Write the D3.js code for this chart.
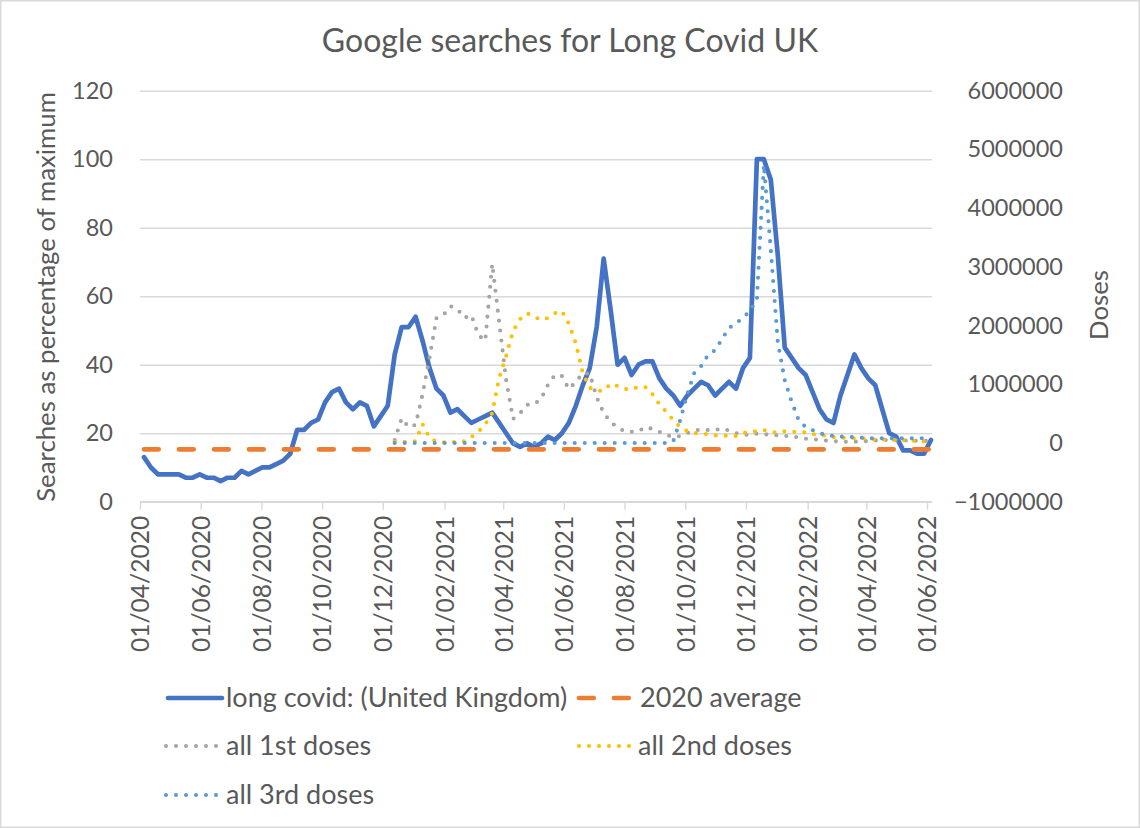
<!DOCTYPE html>
<html><head><meta charset="utf-8">
<script src="https://cdn.jsdelivr.net/npm/d3@7"></script>
<style>
body{margin:0;background:#fff}
text{font-family:Lato,"Open Sans",sans-serif;fill:#595959}
</style>
</head><body>
<svg id="chart" width="1140" height="828"></svg>
<script>
// ---------- data ----------
const searchStart = "2020-04-05";   // weekly, Sundays
const searches = [13,10,8,8,8,8,7,7,8,7,
  7,6,7,7,9,8,9,10,10,11,
  12,14,21,21,23,24,29,32,33,29,
  27,29,28,22,25,28,43,51,51,54,
  47,39,33,31,26,27,25,23,24,25,
  26,23,20,17,16,17,16,17,19,18,
  20,23,28,34,39,51,71,56,40,42,
  37,40,41,41,36,33,31,28,31,33,
  35,34,31,33,35,33,39,42,100,100,
  94,72,45,42,39,37,32,27,24,23,
  31,37,43,39,36,34,27,20,19,15,
  15,14,14,18];
const average2020 = 15.3;
const doseStart = "2020-12-13";     // weekly
const firstDoses = [50000,420000,270000,310000,830000,1450000,2130000,2180000,2330000,2280000,
  2130000,2180000,1840000,1740000,3050000,2060000,1070000,410000,510000,650000,
  660000,750000,990000,1160000,1140000,920000,1040000,1190000,1180000,780000,
  510000,360000,260000,200000,190000,200000,270000,240000,190000,140000,
  100000,120000,170000,210000,230000,220000,220000,250000,210000,170000,
  140000,140000,160000,150000,140000,130000,120000,120000,90000,73000,
  65000,51000,40000,31000,22000,22000,22000,26000,34000,43000,
  51000,51000,51000,46000,39000,39000,37000,34000];
const secondDoses = [20000,20000,20000,30000,320000,90000,20000,10000,10000,20000,
  30000,100000,190000,320000,510000,1110000,1480000,1910000,2110000,2210000,
  2150000,2100000,2130000,2210000,2250000,2030000,1700000,1190000,940000,890000,
  890000,1010000,970000,920000,910000,960000,950000,830000,660000,530000,
  390000,270000,200000,170000,160000,150000,130000,120000,130000,120000,
  170000,190000,200000,220000,200000,170000,200000,190000,190000,180000,
  150000,140000,120000,100000,90000,85000,80000,80000,70000,60000,
  60000,60000,50000,50000,40000,35000,25000,20000];
const thirdDoses = [0,0,0,0,0,0,0,0,0,0,
  0,0,0,0,0,0,0,0,0,0,
  0,0,0,0,0,0,0,0,0,0,
  0,0,0,0,0,0,0,0,0,0,
  30000,390000,830000,1190000,1310000,1500000,1580000,1770000,1960000,2040000,
  2130000,2250000,2440000,4740000,3290000,1720000,1070000,700000,390000,270000,
  220000,170000,130000,120000,110000,100000,100000,90000,80000,80000,
  80000,80000,80000,80000,80000,80000,80000,60000];
const leftTicks = [0,20,40,60,80,100,120];
const rightTicks = [-1000000,0,1000000,2000000,3000000,4000000,5000000,6000000];
const xTickLabels = ["01/04/2020","01/06/2020","01/08/2020","01/10/2020","01/12/2020","01/02/2021",
  "01/04/2021","01/06/2021","01/08/2021","01/10/2021","01/12/2021","01/02/2022","01/04/2022","01/06/2022"];
const title = "Google searches for Long Covid UK";
const leftTitle = "Searches as percentage of maximum";
const rightTitle = "Doses";
const legendNames = ["long covid: (United Kingdom)","2020 average","all 1st doses","all 2nd doses","all 3rd doses"];

// ---------- setup ----------
const parse = d3.timeParse("%Y-%m-%d");
const parseTick = d3.timeParse("%d/%m/%Y");
const weekly = (start, arr) => arr.map((v,i)=>({date:d3.timeDay.offset(parse(start),7*i), v}));
const sData = weekly(searchStart, searches);
const d1 = weekly(doseStart, firstDoses);
const d2 = weekly(doseStart, secondDoses);
const d3s = weekly(doseStart, thirdDoses);

const L=140, R=932, T=90.7, B=501.7;
const svg = d3.select("#chart");
svg.append("rect").attr("x",0.75).attr("y",0.75).attr("width",1138.5).attr("height",826.5)
  .attr("fill","#fff").attr("stroke","#d9d9d9").attr("stroke-width",1.5);

const x = d3.scaleTime().domain([parse("2020-04-01"), parse("2022-06-06")]).range([L,R]);
const yL = d3.scaleLinear().domain([0,120]).range([B,T]);
const yR = d3.scaleLinear().domain([-1000000,6000000]).range([B,T]);

const GRID="#d9d9d9";
// gridlines
const grid = svg.append("g").attr("transform",`translate(${L},0)`)
  .call(d3.axisLeft(yL).tickValues(leftTicks).tickSize(-(R-L)).tickFormat(""));
grid.select(".domain").remove();
grid.selectAll("line").attr("stroke",GRID).attr("stroke-width",1.4);

// x axis
const xa = svg.append("g").attr("transform",`translate(0,${B})`)
  .call(d3.axisBottom(x).tickValues(xTickLabels.map(parseTick)).tickSize(8).tickFormat(d3.timeFormat("%d/%m/%Y")));
xa.select(".domain").attr("stroke",GRID).attr("stroke-width",1.4).attr("d",`M${L},0H${R}`);
xa.selectAll(".tick line").attr("stroke",GRID).attr("stroke-width",1.4);
xa.selectAll(".tick text").attr("transform","rotate(-90)").attr("text-anchor","end")
  .attr("x",-14).attr("y",0).attr("dy","0.36em").style("font-size","24.6px").attr("fill","#595959");

// left axis labels
const la = svg.append("g").attr("transform",`translate(${L},0)`)
  .call(d3.axisLeft(yL).tickValues(leftTicks).tickSize(0).tickPadding(27));
la.select(".domain").remove();
la.selectAll("text").style("font-size","23.5px").attr("fill","#595959");

// right axis labels
const ra = svg.append("g").attr("transform",`translate(1063,0)`)
  .call(d3.axisLeft(yR).tickValues(rightTicks).tickSize(0).tickPadding(0).tickFormat(d3.format("d")));
ra.select(".domain").remove();
ra.selectAll("text").style("font-size","23.5px").attr("fill","#595959");

// titles
svg.append("text").attr("x",570).attr("y",52).attr("text-anchor","middle")
  .style("font-size","32px").text(title);
svg.append("text").attr("transform","translate(46,297) rotate(-90)").attr("text-anchor","middle")
  .attr("dy","0.35em").style("font-size","25.8px").text(leftTitle);
svg.append("text").attr("transform","translate(1099,305) rotate(-90)").attr("text-anchor","middle")
  .attr("dy","0.35em").style("font-size","25.8px").text(rightTitle);

// series
const lineL = d3.line().x(d=>x(d.date)).y(d=>yL(d.v));
const lineR = d3.line().x(d=>x(d.date)).y(d=>yR(d.v));
const styles = [
  {color:"#4472C4", w:4.7, dash:null},
  {color:"#ED7D31", w:4.7, dash:"14.7 20.3"},
  {color:"#A5A5A5", w:4.1, dash:"0 10"},
  {color:"#FFC000", w:4.1, dash:"0 10"},
  {color:"#5B9BD5", w:4.1, dash:"0 10"}
];
function styleLine(sel, s){
  sel.attr("fill","none").attr("stroke",s.color).attr("stroke-width",s.w)
    .attr("stroke-linejoin","round").attr("stroke-linecap","round");
  if(s.dash) sel.attr("stroke-dasharray",s.dash);
  return sel;
}
const plot = svg.append("g");
styleLine(plot.append("path").datum(sData).attr("d",lineL), styles[0]);
const avgData = [sData[0], sData[sData.length-1]].map(d=>({date:d.date, v:average2020}));
styleLine(plot.append("path").datum(avgData).attr("d",lineL), styles[1]);
styleLine(plot.append("path").datum(d1).attr("d",lineR), styles[2]);
styleLine(plot.append("path").datum(d2).attr("d",lineR), styles[3]);
styleLine(plot.append("path").datum(d3s).attr("d",lineR), styles[4]);

// legend
const legendPos = [
  {x1:168,x2:222,y:698,tx:226},
  {x1:579,x2:633,y:698,tx:640},
  {x1:166,x2:222,y:746,tx:226},
  {x1:579,x2:633,y:746,tx:638},
  {x1:166,x2:222,y:795,tx:226}
];
legendNames.forEach((name,i)=>{
  const p = legendPos[i];
  styleLine(svg.append("path").attr("d",`M${p.x1},${p.y}H${p.x2}`), styles[i]);
  svg.append("text").attr("x",p.tx).attr("y",p.y).attr("dy","0.35em")
    .style("font-size","27px").text(name);
});
</script>
</body></html>
